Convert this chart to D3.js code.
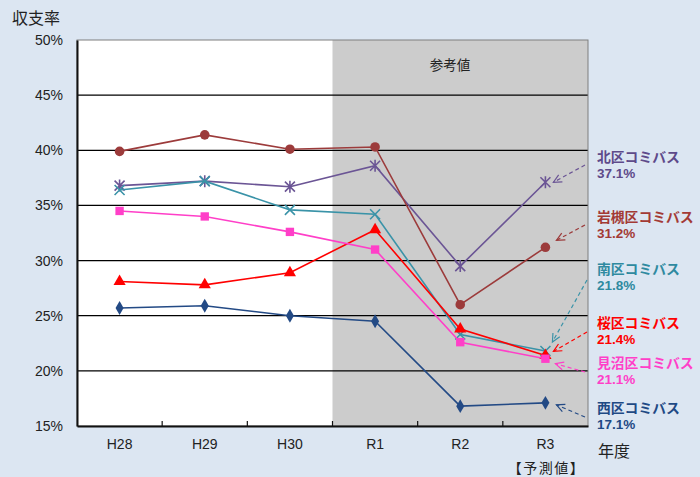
<!DOCTYPE html>
<html>
<head>
<meta charset="utf-8">
<script src="https://cdn.jsdelivr.net/npm/d3@7"></script>
<style>
  html, body { margin: 0; padding: 0; background: #dce6f2; }
  svg { display: block; }
</style>
</head>
<body>
<svg id="chart" width="700" height="477"></svg>
<script>
// Fiscal years and recovery ratio (%) of each community bus line
const years = ["H28", "H29", "H30", "R1", "R2", "R3"];
const yTicks = [15, 20, 25, 30, 35, 40, 45, 50];

const kita     = [36.8, 37.2, 36.7, 38.6, 29.5, 37.1];
const iwatsuki = [39.9, 41.4, 40.1, 40.3, 26.0, 31.2];
const minami   = [36.4, 37.2, 34.6, 34.2, 23.3, 21.8];
const sakura   = [28.1, 27.8, 28.9, 32.8, 23.8, 21.4];
const minuma   = [34.5, 34.0, 32.6, 31.0, 22.6, 21.1];
const nishi    = [25.7, 25.9, 25.0, 24.5, 16.8, 17.1];

const seriesNames = ["北区コミバス", "岩槻区コミバス", "南区コミバス", "桜区コミバス", "見沼区コミバス", "西区コミバス"];
const seriesValues = [kita, iwatsuki, minami, sakura, minuma, nishi];

// Styling for each line
const lineColors  = ["#6b5595", "#9c3b3b", "#3a93a8", "#ff0000", "#ff3fc8", "#234a85"];
const labelColors = ["#5e4a8a", "#a33a35", "#2f8aa0", "#ff0000", "#ff3fc8", "#1f4a85"];
const symbols     = ["star", "circle", "cross", "triangle", "square", "diamond"];
// Right-side callout placement: label centre y, arrow start/end offsets
const labelCY   = [156, 216, 268, 322, 362, 407];
const arrowFrom = [[585, 9], [585, 9], [587, 12], [587, 10], [585, 10], [585, 10]];
const arrowTo   = [[8, 0], [11, -7], [7, -9], [8, -4], [10, 5], [11, 2]];

const svg = d3.select("#chart");
const M = { left: 77, right: 588, top: 40, bottom: 426 };

const x = d3.scaleBand().domain(years).range([M.left, M.right]).padding(0);
const y = d3.scaleLinear().domain([15, 50]).range([M.bottom, M.top]);
const cx = d => x(d) + x.bandwidth() / 2;

const numFont = "'Liberation Sans Narrow', 'Liberation Sans', Arial, sans-serif";
const jpFont = "'Noto Sans CJK JP', 'Noto Sans', sans-serif";

// Plot background: white for actuals, grey for the reference period
svg.append("rect")
  .attr("x", M.left).attr("y", M.top)
  .attr("width", M.right - M.left).attr("height", M.bottom - M.top)
  .attr("fill", "#ffffff");
svg.append("rect")
  .attr("x", x("R1")).attr("y", M.top)
  .attr("width", M.right - x("R1")).attr("height", M.bottom - M.top)
  .attr("fill", "#cccccc");

svg.append("text")
  .attr("x", cx("R1") + (cx("R2") - cx("R1")) * 0.88).attr("y", 64)
  .attr("text-anchor", "middle").attr("dominant-baseline", "central")
  .attr("font-family", jpFont).attr("font-size", 13.5).attr("fill", "#222")
  .text("参考値");

// Horizontal gridlines
svg.append("g").selectAll("line")
  .data(yTicks.filter(t => t > 15 && t < 50))
  .join("line")
  .attr("x1", M.left).attr("x2", M.right)
  .attr("y1", d => y(d)).attr("y2", d => y(d))
  .attr("stroke", "#000").attr("stroke-width", 1.2);

// Plot frame
svg.append("rect")
  .attr("x", M.left).attr("y", M.top)
  .attr("width", M.right - M.left).attr("height", M.bottom - M.top)
  .attr("fill", "none").attr("stroke", "#7f7f7f").attr("stroke-width", 1);

// Y axis
const yAxis = svg.append("g")
  .attr("transform", `translate(${M.left},0)`)
  .call(d3.axisLeft(y).tickValues(yTicks).tickSize(0).tickPadding(14).tickFormat(d => d + "%"));
yAxis.select(".domain").attr("stroke", "#111").attr("stroke-width", 2);
yAxis.selectAll("text")
  .attr("font-family", numFont).attr("font-size", 14).attr("fill", "#222");

// X axis with inward ticks at category boundaries
const xAxis = svg.append("g")
  .attr("transform", `translate(0,${M.bottom})`)
  .call(d3.axisBottom(x).tickSize(0).tickPadding(13));
xAxis.select(".domain").attr("stroke", "#111").attr("stroke-width", 2);
xAxis.selectAll("text")
  .attr("font-family", numFont).attr("font-size", 14).attr("fill", "#222");
svg.append("g").selectAll("line")
  .data(years.slice(1))
  .join("line")
  .attr("x1", d => x(d)).attr("x2", d => x(d))
  .attr("y1", M.bottom).attr("y2", M.bottom - 5)
  .attr("stroke", "#111").attr("stroke-width", 1.2);

svg.append("text")
  .attr("x", cx("R3") + 1).attr("y", 467)
  .attr("text-anchor", "middle").attr("dominant-baseline", "central")
  .attr("font-family", jpFont).attr("font-size", 14).attr("letter-spacing", 1.5)
  .attr("fill", "#222")
  .text("【予測値】");

svg.append("text")
  .attr("x", 598).attr("y", 450)
  .attr("dominant-baseline", "central")
  .attr("font-family", jpFont).attr("font-size", 16).attr("fill", "#222")
  .text("年度");

svg.append("text")
  .attr("x", 12).attr("y", 17)
  .attr("dominant-baseline", "central")
  .attr("font-family", jpFont).attr("font-size", 16).attr("fill", "#222")
  .text("収支率");

// Marker shapes
function markerPath(type, s) {
  const h = s / 2;
  switch (type) {
    case "star":
      return `M${-h},${-h}L${h},${h}M${-h},${h}L${h},${-h}M0,${-h - 1}L0,${h + 1}`;
    case "cross":
      return `M${-h},${-h}L${h},${h}M${-h},${h}L${h},${-h}`;
    default:
      return null;
  }
}

const line = d3.line().x((d, i) => cx(years[i])).y(d => y(d));

seriesValues.forEach((vals, si) => {
  const col = lineColors[si];
  const g = svg.append("g");
  g.append("path")
    .datum(vals)
    .attr("d", line)
    .attr("fill", "none")
    .attr("stroke", col)
    .attr("stroke-width", 1.6);

  const pts = g.selectAll("g.pt")
    .data(vals)
    .join("g")
    .attr("transform", (d, i) => `translate(${cx(years[i])},${y(d)})`);

  const type = symbols[si];
  if (type === "star" || type === "cross") {
    pts.append("path")
      .attr("d", markerPath(type, 10))
      .attr("fill", "none").attr("stroke", col).attr("stroke-width", 1.6);
  } else {
    const symType = { circle: d3.symbolCircle, triangle: d3.symbolTriangle, square: d3.symbolSquare, diamond: d3.symbolDiamond }[type];
    const size = { circle: 72, triangle: 64, square: 70, diamond: 56 }[type];
    pts.append("path")
      .attr("d", d3.symbol().type(symType).size(size))
      .attr("fill", col);
  }

  // Callout label and dashed arrow toward the R3 forecast point
  const cy = labelCY[si];
  const last = vals[vals.length - 1];
  svg.append("text")
    .attr("x", 597).attr("y", cy)
    .attr("dominant-baseline", "central")
    .attr("font-family", jpFont).attr("font-weight", "bold")
    .attr("font-size", 13.8).attr("fill", labelColors[si])
    .text(seriesNames[si]);
  svg.append("text")
    .attr("x", 597).attr("y", cy + 17)
    .attr("dominant-baseline", "central")
    .attr("font-family", numFont).attr("font-weight", "bold")
    .attr("font-size", 13.5).attr("fill", labelColors[si])
    .text(d3.format(".1f")(last) + "%");

  const x0 = arrowFrom[si][0], y0 = cy + arrowFrom[si][1];
  const x1 = cx("R3") + arrowTo[si][0], y1 = y(last) + arrowTo[si][1];
  svg.append("line")
    .attr("x1", x0).attr("y1", y0).attr("x2", x1).attr("y2", y1)
    .attr("stroke", col).attr("stroke-width", 1.2)
    .attr("stroke-dasharray", "4,3");
  const ang = Math.atan2(y0 - y1, x0 - x1);
  const L = 9, spread = 0.45;
  const head = `M${x1 + L * Math.cos(ang + spread)},${y1 + L * Math.sin(ang + spread)}L${x1},${y1}L${x1 + L * Math.cos(ang - spread)},${y1 + L * Math.sin(ang - spread)}`;
  svg.append("path")
    .attr("d", head)
    .attr("fill", "none").attr("stroke", col).attr("stroke-width", 1.2);
});
</script>
</body>
</html>
